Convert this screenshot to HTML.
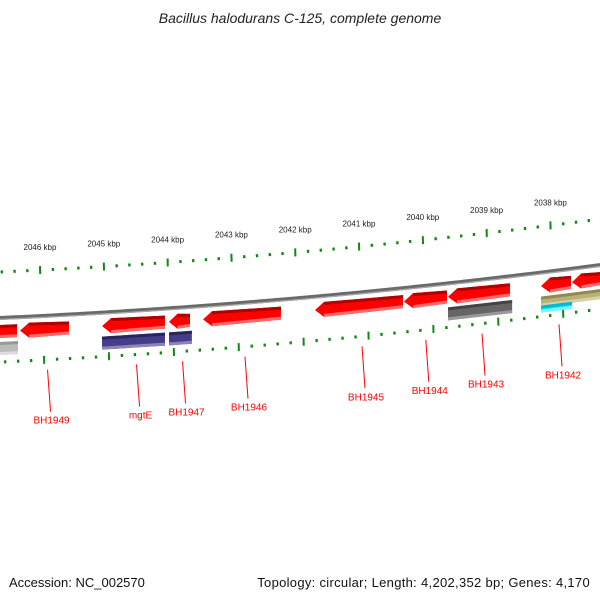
<!DOCTYPE html>
<html><head><meta charset="utf-8">
<style>
body{margin:0;background:#fff;width:600px;height:600px;overflow:hidden;font-family:"Liberation Sans","DejaVu Sans",sans-serif}
svg{display:block}
</style></head>
<body>
<svg id="map" width="600" height="600" viewBox="0 0 600 600" xmlns="http://www.w3.org/2000/svg">
<text x="300" y="23" text-anchor="middle" font-size="14" font-style="italic" fill="#222">Bacillus halodurans C-125, complete genome</text>
<text x="9" y="587" font-size="13" fill="#111">Accession: NC_002570</text>
<text x="590" y="587" text-anchor="end" font-size="13" fill="#111" letter-spacing="0.3">Topology: circular; Length: 4,202,352 bp; Genes: 4,170</text>
<g id="plot"></g>
</svg>
<script>
// data (bp positions)
const tickKbp = [2047,2046,2045,2044,2043,2042,2041,2040,2039,2038,2037];
const geneRow1Start = [2046627,2046313,2045028,2043978,2043445,2041690,2040295,2039605,2038147,2037661];
const geneRow1End   = [2046360,2045545,2044041,2043649,2042223,2040310,2039621,2038633,2037677,2037222];
const geneRow1Arrow = [false,true,true,true,true,true,true,true,true,true];
const geneRow2Start = [2046627,2045028,2043978,2039605,2038147,2037661];
const geneRow2End   = [2046345,2044041,2043620,2038600,2037660,2037222];
const geneRow2Kind  = ['lightgray','purple','purple','darkgray','khaki','khaki'];
const labelNames = ['BH1949','mgtE','BH1947','BH1946','BH1945','BH1944','BH1943','BH1942'];
const labelPos   = [2045929,2044534,2043813,2042834,2041000,2040000,2039119,2037912];

const NS='http://www.w3.org/2000/svg';
const plot=document.getElementById('plot');
function xOf(bp){return 40+(2046000-bp)/1000*63.8;}
function base(x){return 318-0.045*x-7.2e-5*x*x;}
function mk(tag,attrs,parent){const e=document.createElementNS(NS,tag);for(const k in attrs)e.setAttribute(k,attrs[k]);(parent||plot).appendChild(e);return e;}
const colors={red:['#b00000','#ff0000','#ff6a6a'],lightgray:['#999','#bbb','#ddd'],purple:['#2a2460','#453c8a','#8a84b8'],darkgray:['#444','#666','#999'],khaki:['#8f8a50','#b8b27a','#d6d2a8'],cyan:['#00b8d0','#00eaff','#80f4ff']};

// backbone
let d='';for(let x=-5;x<=605;x+=5){d+=(x<0?'M':'L')+x+' '+base(x).toFixed(2)+' ';}
let bb=mk('path',{d:d,stroke:'#6a6a6a','stroke-width':4,fill:'none'});

let bb2=mk('path',{d:d,stroke:'#aaa','stroke-width':1.2,fill:'none',transform:'translate(0,1.4)'});

// ticks
function tickRow(off,scaleOff,labels,name){
  for(let k=0;k<tickKbp.length;k++){
    for(let m=0;m<5;m++){
      const bp=tickKbp[k]*1000-m*200;
      let x=xOf(bp); x=scaleOff+ (x-40)*(off>0?1.017:1)+40;
      if(x<-2||x>602)continue;
      const y=base(x)+off;
      const t=mk('line',{x1:x,x2:x+0.2,y1:m==0?y-4:y-1.5,y2:m==0?y+4:y+1.5,stroke:'#118811','stroke-width':m==0?2:2.4});
      
      
      if(m==0&&labels&&x<590&&x>10){
        const tx=mk('text',{x:x,y:y-20,'text-anchor':'middle','font-size':8,fill:'#222'});
        tx.textContent=tickKbp[k]+' kbp';
        
        
      }
    }
  }
}
tickRow(-46,0,true,'outer');
tickRow(44,4,false,'inner');

// genes
function gene(s,e,off,h,kind,arrow,nm){
  const x1=xOf(s),x2=xOf(e);const c=colors[kind];
  const g=mk('g',{});
  
  
  const hx=arrow?Math.min(9,(x2-x1)*0.4):0;
  const yt=x=>base(x)+off, yb=x=>base(x)+off+h;
  const pts=[[x1+hx,yt(x1+hx)-1],[x2,yt(x2)],[x2,yb(x2)],[x1+hx,yb(x1+hx)+1],[x1,(yt(x1)+yb(x1))/2]];
  if(!arrow){pts.splice(4,1);pts[0]=[x1,yt(x1)];pts[3]=[x1,yb(x1)];}
  mk('polygon',{points:pts.map(p=>p.join(',')).join(' '),fill:c[1]},g);
  mk('polygon',{points:[[pts[0][0],pts[0][1]],[x2,yt(x2)],[x2,yt(x2)+3],[pts[0][0],pts[0][1]+3]].map(p=>p.join(',')).join(' '),fill:c[0]},g);
  mk('polygon',{points:[[pts[3][0],pts[3][1]-3],[x2,yb(x2)-3],[x2,yb(x2)],[pts[3][0],pts[3][1]]].map(p=>p.join(',')).join(' '),fill:c[2]},g);
}
for(let i=0;i<geneRow1Start.length;i++)gene(geneRow1Start[i],geneRow1End[i],7,13,'red',geneRow1Arrow[i],'gene-forward-'+i);
for(let i=0;i<geneRow2Start.length;i++){
  const k=geneRow2Kind[i];
  gene(geneRow2Start[i],geneRow2End[i],24,k=='khaki'?10:13,k,false,'gene-feature-'+i);
  if(k=='khaki'&&i==4)gene(geneRow2Start[i],geneRow2End[i],33,7,'cyan',false,'gene-feature-cyan');
}

// labels
for(let i=0;i<labelNames.length;i++){
  const x=xOf(labelPos[i])+3;const y0=base(x)+54;
  const ln=mk('line',{x1:x,y1:y0,x2:x+3,y2:y0+42,stroke:'#ff0000','stroke-width':1});
  
  
  const t=mk('text',{x:x+4,y:y0+54,'text-anchor':'middle','font-size':10,fill:'#ff0000'});
  t.textContent=labelNames[i];
  
  
}
</script>
</body></html>
